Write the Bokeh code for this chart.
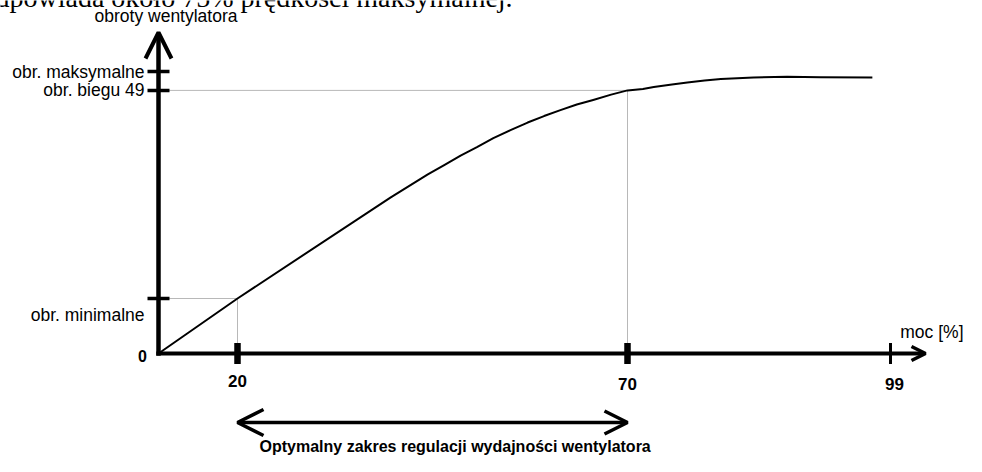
import numpy as np
from bokeh.plotting import figure
from bokeh.models import Range1d, Arrow, OpenHead
from bokeh.core.properties import value
from bokeh.embed import file_html
from bokeh.resources import INLINE

# ---------------- data ----------------
power_ticks = [20, 70, 99]                       # moc [%]
power_tick_labels = ["20", "70", "99"]
speed_ticks = [19.5, 93.3, 100]                  # obroty (% of max)
speed_tick_labels = ["obr. minimalne", "obr. biegu 49", "obr. maksymalne"]
curve_power = [0, 20, 39.6, 44.4, 46.5, 48.6, 50.7, 52.8, 55.0, 57.2, 59.3, 61.4,
               63.5, 65.6, 67.9, 70, 71.7, 72.9, 74.9, 76.6, 78.5, 80.3, 83.9,
               87.6, 91.3, 97.0]
curve_speed = [0, 19.5, 55.3, 63.5, 66.8, 70.2, 73.2, 76.4, 79.2, 81.9, 84.2, 86.3,
               88.3, 89.9, 91.8, 93.3, 93.8, 94.5, 95.4, 96.1, 96.8, 97.3, 97.9,
               98.1, 98.0, 97.9]
guide_power = [20, 70]
guide_speed = [19.5, 93.3]
optimal_range = [20, 70]

# ------------- schematic layout -------------
W, H = 966, 456
ORIGIN_X, ORIGIN_Y = 158, 353      # canvas px of origin
K = 2.82                           # px per speed unit
AXIS_PCT = [0, 20, 70, 99]         # schematic (non-uniform) power axis
AXIS_PX = [0, 79, 469, 732]


def X(pct):
    return np.interp(pct, AXIS_PCT, AXIS_PX)


X_END = 767
Y_END = 321 / K
ARROW_Y = -69 / K

p = figure(width=W, height=H, output_backend="svg", toolbar_location=None,
           x_range=Range1d(-ORIGIN_X, W - ORIGIN_X),
           y_range=Range1d(-(H - ORIGIN_Y) / K, ORIGIN_Y / K),
           min_border=0)
p.axis.visible = False
p.grid.visible = False
p.outline_line_color = None
p.background_fill_color = "white"
p.border_fill_color = "white"

SANS = value("Liberation Sans")

# guide lines
gx = X(guide_power)
p.segment(x0=0, y0=guide_speed, x1=gx, y1=guide_speed, line_color="#b8b8b8", line_width=1)
p.segment(x0=gx, y0=guide_speed, x1=gx, y1=0, line_color="#b8b8b8", line_width=1)

# curve
p.line(X(curve_power), curve_speed, line_color="black", line_width=2, line_join="round")

# axes with arrows
p.add_layout(Arrow(x_start=0, y_start=-2.2 / K, x_end=0, y_end=Y_END,
                   line_width=4.5, line_color="black",
                   end=OpenHead(size=26, line_width=4, line_color="black")))
p.add_layout(Arrow(x_start=-2.2, y_start=0, x_end=X_END, y_end=0,
                   line_width=4.2, line_color="black",
                   end=OpenHead(size=14, line_width=3.5, line_color="black")))

# ticks
p.rect(x=0, y=speed_ticks, width=22, height=3.5, width_units="screen",
       height_units="screen", fill_color="black", line_color=None)
p.rect(x=X(power_ticks), y=0, width=[6.5, 6.5, 3], height=21, width_units="screen",
       height_units="screen", fill_color="black", line_color=None)

# y labels
p.text(x=0, y=speed_ticks, text=speed_tick_labels, x_offset=-14, y_offset=[16, 0, 0],
       text_align="right", text_baseline="middle", text_font=SANS,
       text_font_size="17.5px", text_color="black")
p.text(x=[0], y=[0], text=["0"], x_offset=-16, y_offset=2, text_align="center",
       text_baseline="middle", text_font=SANS, text_font_style="bold",
       text_font_size="16px", text_color="black")

# x labels
p.text(x=X(power_ticks), y=0, text=power_tick_labels, x_offset=[0, 0, 4],
       y_offset=[27, 30, 30], text_align="center", text_baseline="middle",
       text_font=SANS, text_font_style="bold", text_font_size="17px", text_color="black")

# axis titles
p.text(x=[X_END], y=[0], text=["moc [%]"], x_offset=38, y_offset=-22,
       text_align="right", text_baseline="middle", text_font=SANS,
       text_font_size="17.5px", text_color="black")
p.text(x=[0], y=[Y_END], text=["obroty wentylatora"], x_offset=7.5, y_offset=-16.5,
       text_align="center", text_baseline="middle", text_font=SANS,
       text_font_size="17.5px", text_color="black")

# optimal range double arrow
ox = X(optimal_range)
p.add_layout(Arrow(x_start=ox[0], y_start=ARROW_Y, x_end=ox[1], y_end=ARROW_Y,
                   line_width=3.5, line_color="black",
                   start=OpenHead(size=26, line_width=3.5, line_color="black"),
                   end=OpenHead(size=23, line_width=3.5, line_color="black")))
p.text(x=[ox[0]], y=[ARROW_Y], text=["Optymalny zakres regulacji wydajności  wentylatora"],
       x_offset=22, y_offset=24, text_align="left", text_baseline="middle",
       text_font=SANS, text_font_style="bold", text_font_size="16px", text_color="black")

# clipped line of document text at the very top (cut off in the source too)
p.text(x=[-ORIGIN_X], y=[ORIGIN_Y / K], text=["odpowiada około 75% prędkości maksymalnej."],
       x_offset=-19, y_offset=-3, text_align="left", text_baseline="alphabetic",
       text_font=value("Liberation Serif"), text_font_size="28px", text_color="black")

open("out.html", "w").write(file_html(p, INLINE))
